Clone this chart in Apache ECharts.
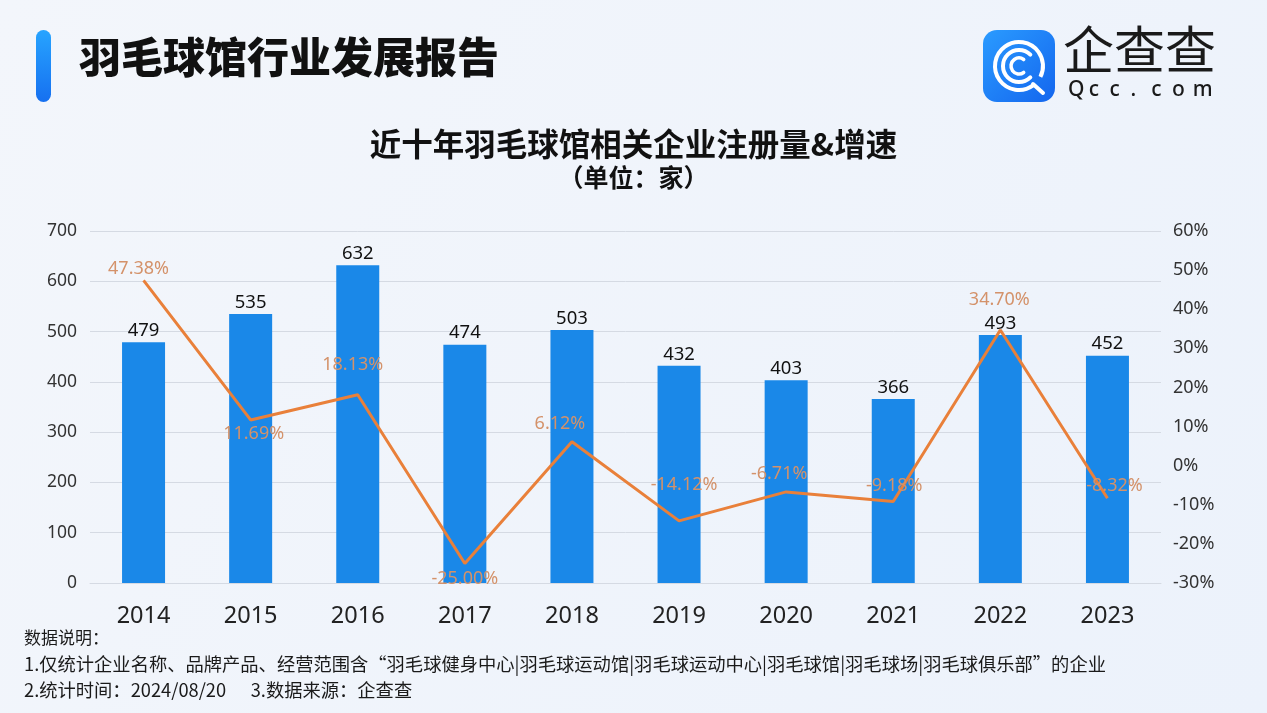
<!DOCTYPE html>
<html><head><meta charset="utf-8">
<script src="https://cdn.jsdelivr.net/npm/echarts@6/dist/echarts.min.js"></script>
<style>html,body{margin:0;padding:0;}#c{width:1267px;height:713px;}</style>
</head><body><div id="c"></div>
<script>
const years = ['2014','2015','2016','2017','2018','2019','2020','2021','2022','2023'];
const registrations = [479, 535, 632, 474, 503, 432, 403, 366, 493, 452];
const growthRates = [47.38, 11.69, 18.13, -25.00, 6.12, -14.12, -6.71, -9.18, 34.70, -8.32];
const leftTicks = {min: 0, max: 700, interval: 100};
const rightTicks = {min: -30, max: 60, interval: 10};
// label nudges (style only)
const rateLabelOffsets = [[-5,-11],[3,14],[-5,-30],[0,15],[-12,-18],[5,-36],[-7,-18],[1,-16],[-1,-30],[7,-12]];
const logoSub = ['Q','c','c','.','c','o','m'];

const FONT = '"Noto Sans CJK SC","Noto Sans",sans-serif';
const LATIN = '"Noto Sans",sans-serif';
const chart = echarts.init(document.getElementById('c'));
const lineData = growthRates.map((v,i)=>({value:v,label:{offset:rateLabelOffsets[i]}}));

const subGraphics = logoSub.map((ch,i)=>({type:'text',x:1068+i*20.8,y:80,
  style:{text:ch,font:'500 21px '+LATIN,fill:'#1a1a1a'}}));

chart.setOption({
  backgroundColor: {type:'linear',x:0,y:0,x2:1,y2:1,colorStops:[{offset:0,color:'#f3f6fb'},{offset:1,color:'#ecf2fb'}]},
  textStyle:{fontFamily:FONT},
  title:[
    {text:'近十年羽毛球馆相关企业注册量&增速',left:'center',top:123,textStyle:{fontSize:31.5,fontWeight:'bold',color:'#111',fontFamily:FONT}},
    {text:'（单位：家）',left:'center',top:160,textStyle:{fontSize:25,fontWeight:'bold',color:'#111',fontFamily:FONT}}
  ],
  grid:{left:90,right:106,top:231,bottom:130},
  xAxis:{type:'category',data:years,axisTick:{show:false},
    axisLine:{show:true,lineStyle:{color:'#d5dae3'}},
    axisLabel:{fontSize:23.5,color:'#222',margin:21,fontFamily:LATIN}},
  yAxis:[
    {type:'value',min:leftTicks.min,max:leftTicks.max,interval:leftTicks.interval,
      axisLabel:{fontSize:17.5,color:'#333',margin:13,fontFamily:LATIN},
      splitLine:{lineStyle:{color:'#d5dae3',width:1}},axisLine:{show:false},axisTick:{show:false}},
    {type:'value',min:rightTicks.min,max:rightTicks.max,interval:rightTicks.interval,
      axisLabel:{fontSize:18,color:'#333',margin:12,formatter:'{value}%',fontFamily:LATIN},
      splitLine:{show:false},axisLine:{show:false},axisTick:{show:false}}
  ],
  series:[
    {type:'bar',data:registrations,barWidth:43,itemStyle:{color:'#1a88e8'},
      label:{show:true,position:'top',distance:2,fontSize:18.5,color:'#111',fontFamily:LATIN}},
    {type:'line',yAxisIndex:1,data:lineData,symbol:'circle',symbolSize:0,showSymbol:true,
      lineStyle:{color:'#e9803a',width:3},itemStyle:{color:'#e9803a'},
      label:{show:true,position:'inside',fontSize:18,color:'#d4926a',fontFamily:LATIN,
        formatter:p=>p.value.toFixed(2)+'%'},z:5}
  ],
  graphic:[
    {type:'rect',shape:{x:36,y:30,width:15,height:72,r:7.5},
      style:{fill:{type:'linear',x:0,y:0,x2:0,y2:1,colorStops:[{offset:0,color:'#27a4ff'},{offset:1,color:'#1670f0'}]}}},
    {type:'text',left:79,top:36,style:{text:'羽毛球馆行业发展报告',font:'900 42px '+FONT,fill:'#111'}},
    // logo
    {type:'rect',shape:{x:983,y:30,width:72,height:72,r:14},
      style:{fill:{type:'linear',x:0,y:0,x2:1,y2:1,colorStops:[{offset:0,color:'#2a9bff'},{offset:1,color:'#1466ee'}]}}},
    {type:'arc',shape:{cx:1019,cy:66,r:24,startAngle:Math.PI*0.3,endAngle:Math.PI*2.15},style:{stroke:'#fff',lineWidth:4,fill:null}},
    {type:'line',shape:{x1:1033,y1:84,x2:1043,y2:93},style:{stroke:'#fff',lineWidth:4,lineCap:'round'}},
    {type:'arc',shape:{cx:1019,cy:66,r:16,startAngle:Math.PI*0.25,endAngle:Math.PI*1.75},style:{stroke:'#fff',lineWidth:4,fill:null,lineCap:'round'}},
    {type:'arc',shape:{cx:1019,cy:66,r:8,startAngle:Math.PI*0.3,endAngle:Math.PI*1.7},style:{stroke:'#fff',lineWidth:3.5,fill:null,lineCap:'round'}},
    {type:'text',left:1063,top:24,style:{text:'企查查',font:'400 51px '+FONT,fill:'#1a1a1a'}},
    ...subGraphics,
    // footer
    {type:'text',left:24,top:629,style:{text:'数据说明：',font:'17px '+FONT,fill:'#1a1a1a'}},
    {type:'text',left:24,top:655,style:{text:'1.仅统计企业名称、品牌产品、经营范围含“羽毛球健身中心|羽毛球运动馆|羽毛球运动中心|羽毛球馆|羽毛球场|羽毛球俱乐部”的企业',font:'18.3px '+FONT,fill:'#1a1a1a'}},
    {type:'text',left:24,top:681,style:{text:'2.统计时间：2024/08/20      3.数据来源：企查查',font:'18.3px '+FONT,fill:'#1a1a1a'}}
  ]
});
</script></body></html>
